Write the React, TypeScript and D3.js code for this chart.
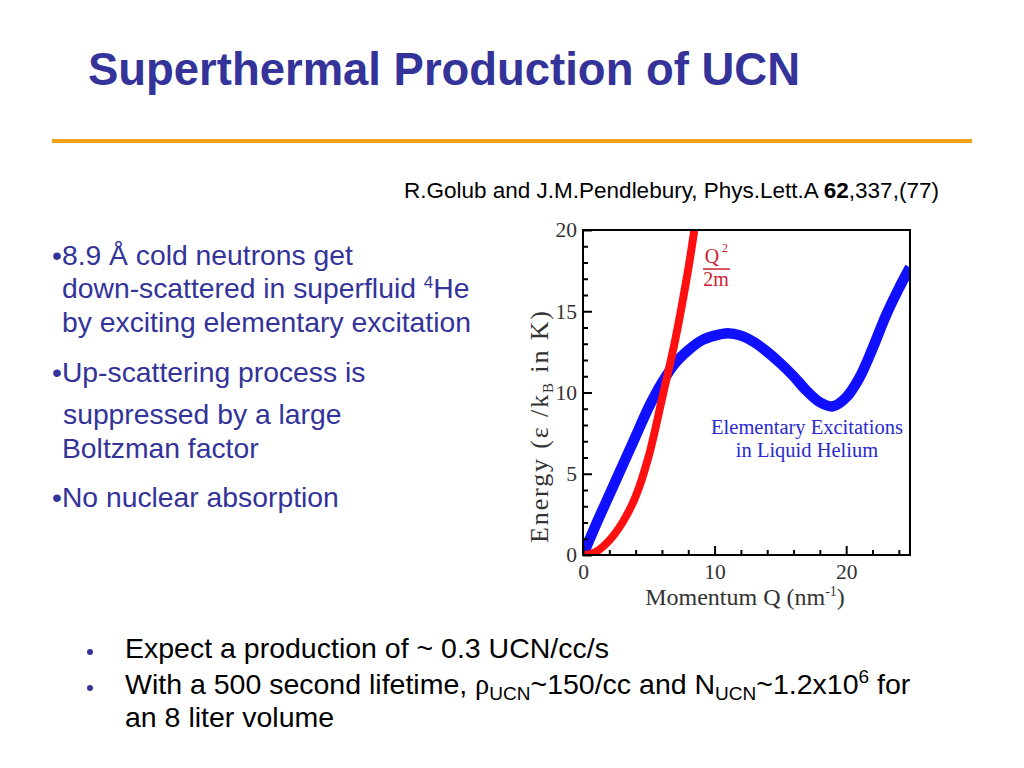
/*eslint-disable*/
import React, { useEffect, useRef } from 'react';
import * as d3 from 'd3';

// dispersion curve of superfluid He (blue)
const blueQ = [0, 1, 2, 3, 4, 5, 6, 7, 8, 9, 10, 11, 12, 13, 14, 15, 16, 17, 18, 19, 20, 21, 22, 23, 24, 24.85];
const blueE = [0, 1.9, 3.7, 5.5, 7.3, 9.1, 10.6, 11.8, 12.6, 13.2, 13.5, 13.65, 13.5, 13.1, 12.5, 11.8, 11.0, 10.1, 9.4, 9.15, 9.7, 10.9, 12.7, 14.7, 16.4, 17.7];

// free neutron Q^2/2m (red)
const redQ = [0, 0.5, 1, 2, 3, 4, 5, 6, 7, 8, 8.5, 8.8];
const redE = [0, 0.05, 0.2, 0.9, 2.0, 3.6, 6.1, 9.6, 13.2, 17.6, 20.2, 21.8];

const xMajor = [0, 10, 20];
const xMinor = [2, 4, 6, 8, 12, 14, 16, 18, 22, 24];
const yMajor = [0, 5, 10, 15, 20];
const yMinor = [1, 2, 3, 4, 6, 7, 8, 9, 11, 12, 13, 14, 16, 17, 18, 19];

const leftBullets = [
  { text: '•8.9 Å cold neutrons get', x: 52, y: 265 },
  { text: 'down-scattered in superfluid ', sup: '4', after: 'He', x: 62, y: 298 },
  { text: 'by exciting elementary excitation', x: 62, y: 332 },
  { text: '•Up-scattering process is', x: 52, y: 382 },
  { text: 'suppressed by a large', x: 63, y: 424 },
  { text: 'Boltzman factor', x: 62, y: 458 },
  { text: '•No nuclear absorption', x: 52, y: 507 },
];

const App: React.FC = () => {
  const svgRef = useRef<SVGSVGElement>(null);

  useEffect(() => {
    const left = 583, top = 230, right = 910, bottom = 555;
    const svg = d3.select(svgRef.current);
    svg.selectAll('g.plot').remove();

    const x = d3.scaleLinear().domain([0, 24.85]).range([left, right]);
    const y = d3.scaleLinear().domain([0, 20]).range([bottom, top]);

    const g = svg.append('g').attr('class', 'plot');

    g.append('clipPath').attr('id', 'plotClip')
      .append('rect')
      .attr('x', left).attr('y', top)
      .attr('width', right - left).attr('height', bottom - top);

    const line = d3.line<[number, number]>()
      .x(d => x(d[0]))
      .y(d => y(d[1]))
      .curve(d3.curveCatmullRom.alpha(0.5));

    const blue = blueQ.map((q, i) => [q, blueE[i]] as [number, number]);
    const red = redQ.map((q, i) => [q, redE[i]] as [number, number]);

    const curves = g.append('g').attr('clip-path', 'url(#plotClip)');
    curves.append('path')
      .datum(blue)
      .attr('fill', 'none')
      .attr('stroke', '#1010ff')
      .attr('stroke-width', 10.5)
      .attr('d', line);
    curves.append('path')
      .datum(red)
      .attr('fill', 'none')
      .attr('stroke', '#ff1010')
      .attr('stroke-width', 8)
      .attr('d', line);

    // axes
    const fontFam = '"Liberation Serif", "Times New Roman", serif';
    const xAxis = g.append('g')
      .attr('transform', `translate(0,${bottom})`)
      .call(d3.axisBottom(x).tickValues(xMajor).tickSize(-9).tickPadding(9).tickFormat(d3.format('d')));
    g.append('g')
      .attr('transform', `translate(0,${bottom})`)
      .call(d3.axisBottom(x).tickValues(xMinor).tickSize(-5).tickFormat(() => ''));
    const yAxis = g.append('g')
      .attr('transform', `translate(${left},0)`)
      .call(d3.axisLeft(y).tickValues(yMajor).tickSize(-9).tickPadding(6).tickFormat(d3.format('d')));
    g.append('g')
      .attr('transform', `translate(${left},0)`)
      .call(d3.axisLeft(y).tickValues(yMinor).tickSize(-5).tickFormat(() => ''));

    g.selectAll('.domain').remove();
    g.selectAll('.tick line').attr('stroke', '#000').attr('stroke-width', 2);
    [xAxis, yAxis].forEach(a => a.selectAll('text')
      .attr('font-family', fontFam)
      .attr('font-size', 21.5)
      .attr('fill', '#333'));

    g.append('rect')
      .attr('x', left).attr('y', top)
      .attr('width', right - left).attr('height', bottom - top)
      .attr('fill', 'none')
      .attr('stroke', '#000')
      .attr('stroke-width', 2);

    // axis titles
    const xt = g.append('text')
      .attr('x', 745)
      .attr('y', 605)
      .attr('text-anchor', 'middle')
      .attr('font-family', fontFam)
      .attr('font-size', 24)
      .attr('fill', '#333');
    xt.append('tspan').text('Momentum Q (nm');
    xt.append('tspan').attr('dy', -9).attr('font-size', 14).text('-1');
    xt.append('tspan').attr('dy', 9).text(')');

    const yt = g.append('text')
      .attr('transform', `translate(548,${427}) rotate(-90)`)
      .attr('text-anchor', 'middle')
      .attr('font-family', fontFam)
      .attr('font-size', 26)
      .attr('textLength', 232)
      .attr('lengthAdjust', 'spacing')
      .attr('fill', '#333');
    yt.append('tspan').text('Energy (ε /k');
    yt.append('tspan').attr('dy', 5).attr('font-size', 15).text('B');
    yt.append('tspan').attr('dy', -5).text(' in K)');

    // annotations
    const red2 = '#cc2030';
    g.append('text')
      .attr('x', 712).attr('y', 263)
      .attr('text-anchor', 'middle')
      .attr('font-family', fontFam).attr('font-size', 20).attr('fill', red2)
      .text('Q');
    g.append('text')
      .attr('x', 722).attr('y', 252)
      .attr('font-family', fontFam).attr('font-size', 12).attr('fill', red2)
      .text('2');
    g.append('line')
      .attr('x1', 703).attr('x2', 730).attr('y1', 269).attr('y2', 269)
      .attr('stroke', red2).attr('stroke-width', 1.5);
    g.append('text')
      .attr('x', 716).attr('y', 286)
      .attr('text-anchor', 'middle')
      .attr('font-family', fontFam).attr('font-size', 20).attr('fill', red2)
      .text('2m');

    const lbl = g.append('text')
      .attr('text-anchor', 'middle')
      .attr('font-family', fontFam).attr('font-size', 20.5).attr('fill', '#2a2ad0');
    lbl.append('tspan').attr('x', 807).attr('y', 434).text('Elementary Excitations');
    lbl.append('tspan').attr('x', 807).attr('y', 457).text('in Liquid Helium');

    return () => { svg.selectAll('g.plot').remove(); };
  }, []);

  const sans = '"Liberation Sans", Arial, Helvetica, sans-serif';
  const navy = '#333399';

  return (
    <svg ref={svgRef} width={1024} height={768}
      style={{ position: 'absolute', left: 0, top: 0, background: '#fff' }}>
      <rect x={0} y={0} width={1024} height={768} fill="#fff" />
      <text x={88} y={85} fontFamily={sans} fontWeight="bold" fontSize={46} fill={navy}
        textLength={712} lengthAdjust="spacingAndGlyphs">
        Superthermal Production of UCN
      </text>
      <rect x={52} y={139} width={920} height={4} fill="#f4a21c" />
      <text x={404} y={198} fontFamily={sans} fontSize={22.5} fill="#000">
        R.Golub and J.M.Pendlebury, Phys.Lett.A <tspan fontWeight="bold">62</tspan>,337,(77)
      </text>

      {leftBullets.map((b, i) => (
        <text key={i} x={b.x} y={b.y} fontFamily={sans} fontSize={28.3} fill={navy}>
          {b.text}
          {b.sup && <tspan dy={-10} fontSize={17}>{b.sup}</tspan>}
          {b.after && <tspan dy={10}>{b.after}</tspan>}
        </text>
      ))}

      <circle cx={90} cy={652} r={3} fill={navy} />
      <circle cx={90} cy={688} r={3} fill={navy} />
      <text x={125} y={658} fontFamily={sans} fontSize={28.5} fill="#000">
        Expect a production of ~ 0.3 UCN/cc/s
      </text>
      <text x={125} y={694} fontFamily={sans} fontSize={28.5} fill="#000">
        With a 500 second lifetime, <tspan fontFamily='"Liberation Serif", serif'>ρ</tspan>
        <tspan dy={6} fontSize={19}>UCN</tspan>
        <tspan dy={-6}>~150/cc and N</tspan>
        <tspan dy={6} fontSize={19}>UCN</tspan>
        <tspan dy={-6}>~1.2x10</tspan>
        <tspan dy={-11} fontSize={19}>6</tspan>
        <tspan dy={11}> for</tspan>
      </text>
      <text x={125} y={727} fontFamily={sans} fontSize={28.5} fill="#000">
        an 8 liter volume
      </text>
    </svg>
  );
};

export default App;
